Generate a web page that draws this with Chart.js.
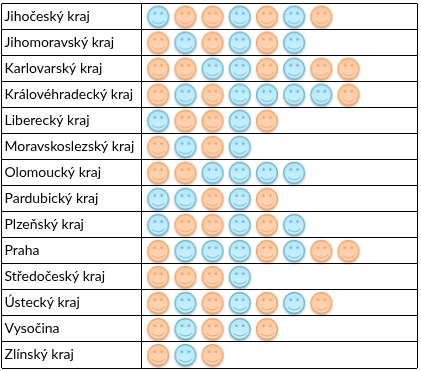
<!DOCTYPE html>
<html>
<head>
<meta charset="utf-8">
<style>
  html, body { margin: 0; padding: 0; background: #fff; }
  #graf { display: block; position: absolute; left: 0; top: 0; }
</style>
<script src="https://cdn.jsdelivr.net/npm/chart.js@4"></script>
</head>
<body>
<canvas id="graf" width="421" height="371"></canvas>
<script>
const kraje = ['Jihočeský kraj', 'Jihomoravský kraj', 'Karlovarský kraj', 'Královéhradecký kraj',
  'Liberecký kraj', 'Moravskoslezský kraj', 'Olomoucký kraj', 'Pardubický kraj', 'Plzeňský kraj',
  'Praha', 'Středočeský kraj', 'Ústecký kraj', 'Vysočina', 'Zlínský kraj'];

// pozice modrych a oranzovych smajliku v kazdem radku
const modre = [[1, 4, 6], [2, 4, 6], [3, 4, 6], [2, 4, 5, 6, 7], [1, 4], [2, 4], [3, 4, 5, 6],
  [1, 2, 4], [1, 4, 6], [2, 3, 4, 6], [4], [2, 4, 6], [2, 4], [2]];
const oranzove = [[2, 3, 5, 7], [1, 3, 5], [1, 2, 5, 7, 8], [1, 3, 8], [2, 3, 5], [1, 3], [1, 2],
  [3, 5], [2, 3, 5], [1, 5, 7, 8], [1, 2, 3], [1, 3, 5, 7], [1, 3, 5], [1, 3]];

function body(radky) {
  const vysledek = [];
  radky.forEach(function (radek, i) {
    radek.forEach(function (sloupec) {
      vysledek.push({ x: sloupec, y: kraje[i] });
    });
  });
  return vysledek;
}

function smajlik(okraj, svetla, tmava, oci) {
  const c = document.createElement('canvas');
  c.width = 28;
  c.height = 28;
  const g = c.getContext('2d');
  const s = 14, r = 10.4;
  // stin pod koleckem
  g.save();
  g.shadowColor = 'rgba(0,0,0,0.35)';
  g.shadowBlur = 3;
  g.shadowOffsetY = 2;
  g.fillStyle = okraj;
  g.beginPath();
  g.arc(s, s, r, 0, Math.PI * 2);
  g.fill();
  g.restore();
  const p = g.createLinearGradient(0, s - r, 0, s + r);
  p.addColorStop(0, svetla);
  p.addColorStop(1, tmava);
  g.fillStyle = p;
  g.strokeStyle = okraj;
  g.lineWidth = 1.2;
  g.beginPath();
  g.arc(s, s, r, 0, Math.PI * 2);
  g.fill();
  g.stroke();
  // oci
  g.fillStyle = oci;
  g.beginPath();
  g.arc(s - 3.4, s - 3.2, 1.2, 0, Math.PI * 2);
  g.arc(s + 3.4, s - 3.2, 1.2, 0, Math.PI * 2);
  g.fill();
  // usta
  g.strokeStyle = oci;
  g.lineWidth = 0.9;
  g.beginPath();
  g.arc(s, s - 1.5, 8.5, 0.22 * Math.PI, 0.78 * Math.PI);
  g.stroke();
  return c;
}

const modryObr = smajlik('#62b3cf', '#b4e6f8', '#cdf3ff', '#5fb0cc');
const oranzovyObr = smajlik('#f7a25c', '#fcc8a0', '#ffd8bb', '#f59c55');

new Chart(document.getElementById('graf'), {
  type: 'scatter',
  data: {
    datasets: [
      { data: body(modre), pointStyle: modryObr },
      { data: body(oranzove), pointStyle: oranzovyObr }
    ]
  },
  options: {
    responsive: false,
    animation: false,
    layout: { autoPadding: false, padding: { left: 1.5, top: 3.5, right: 4, bottom: 3 } },
    plugins: { legend: { display: false }, tooltip: { enabled: false } },
    scales: {
      x: {
        type: 'linear',
        min: -4.766,
        max: 10.52,
        afterBuildTicks: function (axis) {
          axis.ticks = [{ value: -4.766 }, { value: 0.39 }, { value: 10.52 }];
        },
        afterFit: function (axis) {
          axis.height = 0;
          axis.paddingLeft = 0;
          axis.paddingRight = 0;
        },
        border: { display: false },
        grid: { color: '#000', lineWidth: 1, drawTicks: false },
        ticks: { display: false }
      },
      y: {
        type: 'category',
        labels: kraje,
        offset: true,
        // popisky lezi uvnitr prvniho sloupce, osa nema brat misto
        afterFit: function (axis) {
          axis.width = 0;
          axis.paddingTop = 0;
          axis.paddingBottom = 0;
        },
        border: { display: false },
        grid: { offset: true, color: '#000', lineWidth: 1, drawTicks: false },
        ticks: {
          mirror: true,
          padding: 3,
          color: '#000',
          autoSkip: false,
          font: { family: 'Lato', size: 14 }
        }
      }
    }
  }
});
</script>
</body>
</html>
